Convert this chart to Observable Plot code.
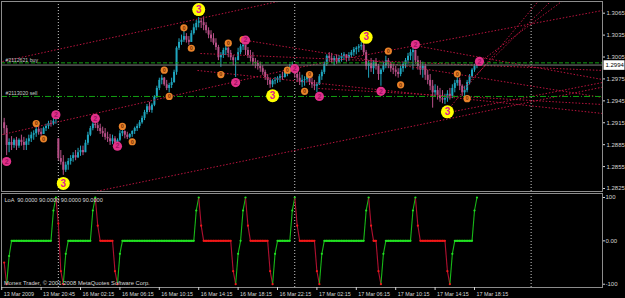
<!DOCTYPE html>
<html><head><meta charset="utf-8">
<script src="https://cdn.jsdelivr.net/npm/d3@7"></script>
<script src="https://cdn.jsdelivr.net/npm/@observablehq/plot@0.6"></script>
<style>
html,body{margin:0;padding:0;background:#000;}
#chart{width:625px;height:298px;background:#000;overflow:hidden;}
#chart svg{display:block;}
</style></head><body><div id="chart"></div>
<script>
// Prices are stored as pips above 1.2800; bar index 0 = 16 Mar 02:15 (M15 bars)
const BASE = 1.28;
const firstBar = -31;
const firstOpen = 115;
const highs = [121,111,93,96,93,95,93,98,95,93, 98,102,104,110,110,107,109,113,117,118,
 121,120,93,77,70,61,66,70,74,77, 80,83,83,91,102,110,115,120,115,113,
 109,107,102,99,98,96,93,104,106,104, 102,100,104,109,113,118,124,132,140,143,
 141,152,165,176,180,177,173,169,176,187, 219,230,235,241,237,233,241,250,255,259,
 258,260,252,245,241,237,230,221,211,217, 221,218,214,207,204,217,222,224,221,218,
 214,211,203,200,198,193,187,181,176,174, 177,178,181,184,187,191,195,198,193,187,
 184,180,178,182,178,176,173,170,181,187, 198,208,211,210,206,208,207,210,211,208,
 211,214,218,219,222,225,224,214,200,203, 200,203,195,189,198,206,203,198,195,192,
 189,192,198,203,210,215,219,214,206,200, 198,195,187,181,173,167,165,162,159,154,
 159,162,167,173,178,176,167,165,173,181, 189,195,198];
const lows = [98,70,74,77,80,77,80,83,77,77, 84,88,91,95,98,95,99,103,106,109,
 111,113,63,57,43,47,50,57,61,63, 66,69,70,74,84,96,104,107,103,99,
 95,91,88,84,85,83,87,89,96,93, 92,93,95,99,103,107,113,118,126,129,
 128,137,148,159,167,165,159,156,162,169, 180,214,221,225,224,221,225,235,241,245,
 244,241,237,230,225,221,214,200,191,203, 207,204,200,193,177,200,208,214,207,203,
 198,193,189,187,184,180,173,166,162,163, 167,169,170,173,176,178,181,184,176,170,
 166,163,165,170,166,162,159,156,166,173, 181,192,198,196,193,195,196,198,200,198,
 199,203,206,208,211,214,207,187,176,184, 181,187,173,165,184,189,189,184,181,178,
 176,178,184,189,195,200,187,195,187,180, 176,173,167,159,135,151,146,143,141,140,
 143,146,148,156,165,159,151,148,156,167, 176,184,189];
const closes = [107,84,88,84,91,83,91,88,84,89, 93,98,100,106,102,99,107,110,114,113,
 117,117,66,61,50,57,62,66,70,67, 74,77,74,87,98,107,113,111,107,103,
 100,95,93,89,93,87,91,100,103,98, 95,99,103,107,110,115,121,129,137,132,
 139,150,162,173,176,167,162,166,170,184, 217,225,228,233,228,225,237,245,251,254,
 252,248,241,235,230,224,218,204,207,214, 217,210,204,200,200,211,219,221,214,207,
 203,198,196,192,189,184,177,173,167,172, 173,176,178,177,184,187,189,191,181,176,
 170,173,174,178,170,167,165,167,178,184, 195,206,203,200,203,198,203,206,208,203,
 207,211,215,217,219,221,211,192,196,189, 198,192,181,187,193,200,195,189,187,184,
 181,189,195,200,206,211,214,200,192,187, 192,180,173,165,156,159,152,148,146,148,
 154,151,162,169,173,165,156,159,170,178, 187,192,194];
// LoA indicator, one value per bar
const loa = [-50,-100,-35, 0,0,0,0,0,0,0,0,0,0,0,0,0,0,0,0,0, 70,100, 40,-70,-100,-30,
 0,0,0,0,0,0,0,0,0,0, 70,100,35, 0,0,0,0,0,0, -70,-100,-30,
 0,0,0,0,0,0,0,0,0,0,0,0,0,0,0,0,0,0,0,0,0,0,0,0,0,0,0,0,0,0, 70,100,35,
 0,0,0,0,0,0,0,0,0,0,0,0, -70,-100,-30,0,70,100,35, 0,0,0,0,0,0,0,0, -70,-100,-30,
 0,0,0,0,0,0, 70,100,35, 0,0,0,0,0,0,0, -70,-100,-30,
 0,0,0,0,0,0,0,0,0,0,0,0,0,0,0,0,0, 70,100,35, 0,0, -70,-100,-30,
 0,0,0,0,0,0,0,0,0,0,0, 70,100,35, 0,0,0,0,0,0,0,0,0,0,0, -70,-100,-30,
 0,0,0,0,0,0,0,0, 70,100];
const xTickBars = [-32,-16,0,16,32,48,64,80,96,112,128,144,160];
const xTickLabels = ["13 Mar 2009","13 Mar 20:45","16 Mar 02:15","16 Mar 06:15","16 Mar 10:15","16 Mar 14:15","16 Mar 18:15","16 Mar 22:15","17 Mar 02:15","17 Mar 06:15","17 Mar 10:15","17 Mar 14:15","17 Mar 18:15"];
const priceTicks = [1.3065,1.3035,1.3005,1.2975,1.2945,1.2915,1.2885,1.2855,1.2825];
const loaTicks = [100,0,-100];
const daySeparators = [-9,87,183];
const bidPrice = 1.2994, buyPrice = 1.2997, sellPrice = 1.2951;
const orderLabels = ["#2112621 buy","#2113020 sell"];
// semafor signals: [bar, pips]
const semafor3 = [[-7,32],[48,270],[78,152],[116,232],[149,130]];
const semafor2 = [[-30,62],[-10,126],[6,121],[15,83],[63,170],[67,228],[87,189],[97,151],[122,158],[136,222],[162,199]];
const semafor0 = [[-18,114],[-15,93],[17,110],[21,89],[34,187],[36,151],[42,245],[45,217],[57,181],[60,224],[66,229],[84,187],[91,158],[93,181],[125,213],[130,167],[153,182],[157,148]];
// trendlines: [bar1, pips1, bar2, pips2]
const trendlines = [[-31.7,198.9,84.1,283.8],[-31.7,98.9,86.5,189.3],[86.5,189.3,212,268.7],
 [4.06,19.5,212,163.8],[48.7,209.8,212,186.6],[47.5,186.6,212,127.7],[67.4,227.6,212,149.6],
 [135.6,220.8,212,174.2],[96.6,161.9,212,140.0],[149.4,129.0,212,170.1],
 [149.0,131.8,186.8,285.1],[155.5,163.3,191.7,283.8],[160.8,194.8,195.7,281.7]];

const price = p => BASE + p / 1e4;
const X_DOMAIN = [-32.09, 211.98];
const BULL = "#1fa6bf", BEAR = "#b85088";
const FONT = "Liberation Sans, Arial, sans-serif";

const bars = closes.map((c, i) => {
  const prev = i === 0 ? firstOpen : closes[i - 1];
  const o = Math.max(lows[i], Math.min(highs[i], prev));
  return {b: firstBar + i, open: price(o), close: price(c), high: price(highs[i]), low: price(lows[i]), col: c >= o ? BULL : BEAR};
});
const sem = (arr) => arr.map(([b, p]) => ({b, y: price(p)}));
const lines = trendlines.map(([b1, p1, b2, p2]) => ({b1, y1: price(p1), b2, y2: price(p2)}));
const orders = [{y: buyPrice, t: orderLabels[0]}, {y: sellPrice, t: orderLabels[1]}];
const boxSymbol = {draw(ctx) { ctx.rect(-10.5, -4.8, 21, 9.6); }};

const main = Plot.plot({
  width: 625, height: 192,
  marginLeft: 1, marginRight: 23, marginTop: 1, marginBottom: 1,
  style: {background: "#000", color: "#d4d4d4", fontFamily: FONT, fontSize: "6px"},
  x: {domain: X_DOMAIN, axis: null},
  y: {domain: [price(20.9), price(281.0)], axis: null},
  marks: [
    Plot.ruleX(daySeparators, {x: d => d, stroke: "#c8c8c8", strokeDasharray: "1,2"}),
    Plot.ruleX(bars, {x: "b", y1: "low", y2: "high", stroke: "col", strokeWidth: 1}),
    Plot.ruleX(bars, {x: "b", y1: "open", y2: "close", stroke: "col", strokeWidth: 2}),
    Plot.link(lines, {x1: "b1", y1: "y1", x2: "b2", y2: "y2", stroke: "#b8143e", strokeDasharray: "1.5,1.8", clip: true}),
    Plot.ruleY([bidPrice], {y: d => d, stroke: "#808080"}),
    Plot.ruleY([buyPrice], {y: d => d, stroke: "#12a012", strokeDasharray: "4,2"}),
    Plot.ruleY([sellPrice], {y: d => d, stroke: "#12a012", strokeDasharray: "6,2,1,2"}),
    Plot.text(orders, {y: "y", text: "t", frameAnchor: "left", dx: 4, dy: -3, textAnchor: "start", lineAnchor: "middle", fill: "#c8c8c8", fontSize: 5.2}),
    Plot.dot(sem(semafor0), {x: "b", y: "y", r: 3.6, fill: "#e8822a"}),
    Plot.text(sem(semafor0), {x: "b", y: "y", text: () => "0", fill: "#7a2e00", fontSize: 5.5, fontWeight: "bold"}),
    Plot.dot(sem(semafor2), {x: "b", y: "y", r: 4.6, fill: "#e2308a"}),
    Plot.text(sem(semafor2), {x: "b", y: "y", text: () => "2", fill: "#a01060", fontSize: 7, fontWeight: "bold"}),
    Plot.dot(sem(semafor3), {x: "b", y: "y", r: 6.5, fill: "#ffff00"}),
    Plot.text(sem(semafor3), {x: "b", y: "y", text: () => "3", fill: "#e0208c", fontSize: 10, fontWeight: "bold"}),
    Plot.frame({stroke: "#8c8c8c"}),
    Plot.axisY({anchor: "right", ticks: priceTicks, tickSize: 2, tickPadding: 2, tickFormat: d => d.toFixed(4), fontSize: 6, fontFamily: FONT}),
    Plot.dot([bidPrice], {y: d => d, frameAnchor: "right", dx: 11.5, symbol: boxSymbol, fill: "#ffffff", stroke: "none"}),
    Plot.text([bidPrice], {y: d => d, frameAnchor: "right", dx: 3, textAnchor: "start", text: d => d.toFixed(4), fill: "#000", fontSize: 6})
  ]
});

// indicator panel
const pts = loa.map((v, i) => ({b: firstBar + i, v}));
let dir = "down";
const segs = [];
const ptCol = [{...pts[0], col: "#f01818"}];
for (let i = 1; i < pts.length; i++) {
  const a = pts[i - 1], c = pts[i];
  if (c.v > a.v) dir = "up"; else if (c.v < a.v) dir = "down";
  const flat = c.v === a.v;
  const col = dir === "up" ? (flat ? "#22e022" : "#18b818") : (flat ? "#f01818" : "#b01030");
  segs.push({b1: a.b, v1: a.v, b2: c.b, v2: c.v, col, flat});
  ptCol.push({...c, col: dir === "up" ? "#22e022" : "#f01818"});
}
const tickObjs = xTickBars.map((b, i) => ({b, label: xTickLabels[i]}));

const ind = Plot.plot({
  width: 625, height: 106,
  marginLeft: 1, marginRight: 23, marginTop: 1, marginBottom: 11,
  style: {background: "#000", color: "#d4d4d4", fontFamily: FONT, fontSize: "6px"},
  x: {domain: X_DOMAIN, axis: null},
  y: {domain: [-107.6, 109.2], axis: null},
  marks: [
    Plot.ruleX(daySeparators, {x: d => d, stroke: "#c8c8c8", strokeDasharray: "1,2"}),
    Plot.link(segs.filter(d => !d.flat), {x1: "b1", y1: "v1", x2: "b2", y2: "v2", stroke: "col", strokeWidth: 1.1}),
    Plot.link(segs.filter(d => d.flat), {x1: "b1", y1: "v1", x2: "b2", y2: "v2", stroke: "col", strokeWidth: 2}),
    Plot.dot(ptCol, {x: "b", y: "v", r: 1.1, fill: "col"}),
    Plot.text(["LoA  90.0000 90.0000 90.0000 90.0000"], {text: d => d, frameAnchor: "top-left", dx: 3, dy: 6.5, lineAnchor: "middle", textAnchor: "start", fill: "#d8d8d8", fontSize: 5.6}),
    Plot.text(["Monex Trader, \u00a9 2001-2008 MetaQuotes Software Corp."], {text: d => d, frameAnchor: "bottom-left", dx: 2.5, dy: -4.5, lineAnchor: "middle", textAnchor: "start", fill: "#d8d8d8", fontSize: 5.8}),
    Plot.frame({stroke: "#8c8c8c"}),
    Plot.axisY({anchor: "right", ticks: loaTicks, tickSize: 2, tickPadding: 1, tickFormat: d => d === 0 ? "0.00" : d.toFixed(0), fontSize: 6, fontFamily: FONT}),
    Plot.axisX({anchor: "bottom", ticks: xTickBars, tickSize: 3, tickFormat: () => ""}),
    Plot.text(tickObjs, {x: "b", text: "label", frameAnchor: "bottom", dx: 2, dy: 6.5, textAnchor: "start", lineAnchor: "middle", fill: "#d8d8d8", fontSize: 5.4})
  ]
});

const root = document.getElementById("chart");
root.appendChild(main);
root.appendChild(ind);
</script>
</body></html>
